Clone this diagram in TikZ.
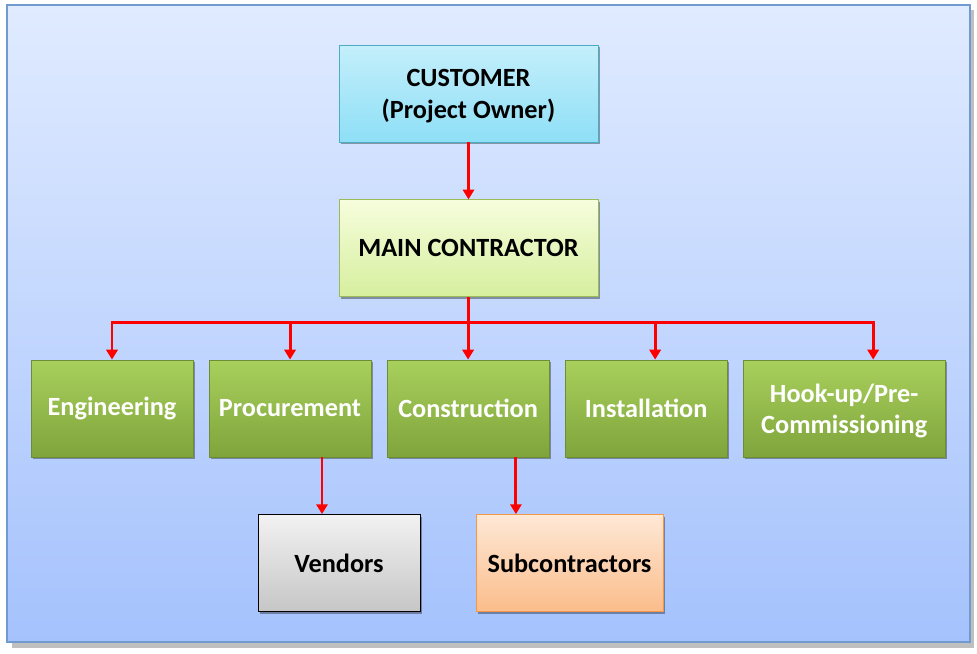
\documentclass[tikz,border=0pt]{standalone}
\usepackage{fontspec}
\setmainfont{Carlito}
\usetikzlibrary{positioning, shadows, arrows.meta}
\definecolor{framedraw}{HTML}{6F9BD0}
\definecolor{frametop}{HTML}{E0EBFF}
\definecolor{framebot}{HTML}{A5C2FD}
\definecolor{custdraw}{HTML}{4BACC6}
\definecolor{custtop}{HTML}{C4EFFB}
\definecolor{custbot}{HTML}{8EDFF6}
\definecolor{maindraw}{HTML}{9BBB59}
\definecolor{maintop}{HTML}{F6FDDC}
\definecolor{mainbot}{HTML}{D6EF9E}
\definecolor{greendraw}{HTML}{6E8C32}
\definecolor{greentop}{HTML}{A8D05C}
\definecolor{greenbot}{HTML}{7FA43C}
\definecolor{greytop}{HTML}{F2F2F2}
\definecolor{greybot}{HTML}{C6C6C6}
\definecolor{subdraw}{HTML}{F79646}
\definecolor{subtop}{HTML}{FEE8D6}
\definecolor{subbot}{HTML}{FBBD8B}
\definecolor{linkred}{HTML}{FF0000}
\tikzset{
    box/.style={rectangle, minimum height=2.425cm, align=center, line width=0.6pt, font=\fontsize{18.7}{23}\selectfont\bfseries, inner sep=2pt, drop shadow={shadow xshift=1.5pt, shadow yshift=-1.5pt, opacity=0.35, fill=black}},
    owner/.style={box, minimum width=6.475cm, draw=custdraw, top color=custtop, bottom color=custbot},
    contractor/.style={box, minimum width=6.475cm, draw=maindraw, top color=maintop, bottom color=mainbot},
    discipline/.style={box, minimum width=4.05cm, draw=greendraw, top color=greentop, bottom color=greenbot, text=white},
    vendor/.style={box, minimum width=4.05cm, draw=black, top color=greytop, bottom color=greybot},
    subcon/.style={box, minimum width=4.675cm, draw=subdraw, top color=subtop, bottom color=subbot},
    link/.style={draw=linkred, line width=2.1pt},
    arrow/.style={link, -{Triangle[width=8pt,length=7pt]}}
}
\begin{document}
\begin{tikzpicture}[node distance=0.38cm]
    \useasboundingbox (0,0) rectangle (24.425,-16.325);
    % background panel
    \fill[black!25] (0.3,-0.25) rectangle (24.35,-16.2);
    \shade[top color=frametop, bottom color=framebot, draw=framedraw, line width=1.2pt] (0.175,-0.125) rectangle (24.25,-16.05);

    \node (customer) [owner] at (11.7125,-2.3375) {\strut CUSTOMER\\(Project Owner)};
    \node (main) [contractor, below=1.425cm of customer] {MAIN CONTRACTOR};

    \node (eng) [discipline] at (2.8,-10.2125) {Engineering};
    \node (proc) [discipline, right=of eng] {Procurement};
    \node (cons) [discipline, right=of proc] {Construction};
    \node (inst) [discipline, right=of cons] {Installation};
    \node (hookup) [discipline, right=of inst, minimum width=5.05cm] {\strut Hook-up/Pre-\\[-1pt]Commissioning};

    \node (vendors) [vendor] at (8.475,-14.075) {Vendors};
    \node (subs) [subcon] at (14.2375,-14.075) {Subcontractors};

    \coordinate (bus) at ([yshift=-0.625cm]main.south);
    \coordinate (instin) at ([xshift=0.225cm]inst.north);
    \coordinate (hookin) at ([xshift=0.725cm]hookup.north);
    \coordinate (vendin) at ([xshift=-0.425cm]vendors.north);
    \coordinate (subin) at ([xshift=-1.34cm]subs.north);

    \draw [arrow] (customer) -- (main);
    \draw [link] (main.south) -- (bus);
    \draw [arrow] (bus) -| (eng.north);
    \draw [arrow] (bus) -| (proc.north);
    \draw [arrow] (bus) -| (cons.north);
    \draw [arrow] (bus) -| (instin);
    \draw [arrow] (bus) -| (hookin);
    \draw [arrow] (proc.south -| vendin) -- (vendin);
    \draw [arrow] (cons.south -| subin) -- (subin);
\end{tikzpicture}
\end{document}
